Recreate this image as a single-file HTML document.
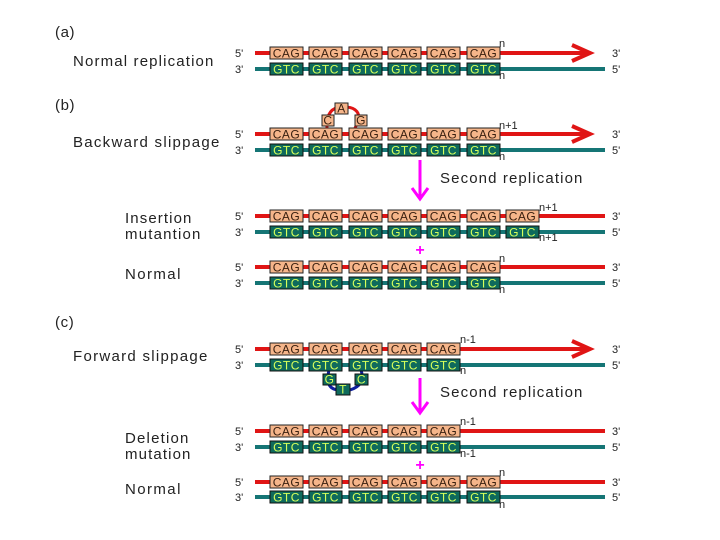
<!DOCTYPE html>
<html><head><meta charset="utf-8"><style>
html,body{margin:0;padding:0;background:#fff;}
svg{display:block;}
text{font-family:"Liberation Sans",sans-serif;}
.lab{font-size:15px;fill:#222;letter-spacing:0.6px;}
.end{font-size:11px;fill:#222;}
.n{font-size:11px;fill:#222;}
.c{fill:#f5b58a;stroke:#222;stroke-width:1;}
.g{fill:#0e6a5c;stroke:#111;stroke-width:1;}
.ct{font-size:12px;fill:#3a2010;text-anchor:middle;letter-spacing:0.5px;}
.gt{font-size:12px;fill:#d6ff5a;text-anchor:middle;letter-spacing:0.5px;}
.r{stroke:#e01515;stroke-width:4;}
.t{stroke:#157575;stroke-width:4;}
</style></head><body>
<svg width="720" height="540" viewBox="0 0 720 540" xmlns="http://www.w3.org/2000/svg">
<defs>
<g id="dummy"></g>
</defs>
<!-- left labels -->
<text class="lab" x="55" y="37">(a)</text>
<text class="lab" x="73" y="66" textLength="141">Normal replication</text>
<text class="lab" x="55" y="110">(b)</text>
<text class="lab" x="73" y="147" textLength="147">Backward slippage</text>
<text class="lab" x="125" y="223" textLength="67">Insertion</text>
<text class="lab" x="125" y="239" textLength="76">mutantion</text>
<text class="lab" x="125" y="279" textLength="56">Normal</text>
<text class="lab" x="55" y="327">(c)</text>
<text class="lab" x="73" y="361" textLength="135">Forward slippage</text>
<text class="lab" x="125" y="443" textLength="64">Deletion</text>
<text class="lab" x="125" y="459" textLength="66">mutation</text>
<text class="lab" x="125" y="494" textLength="56">Normal</text>
<text class="lab" x="440" y="183" textLength="143">Second replication</text>
<text class="lab" x="440" y="397" textLength="143">Second replication</text>

<!-- magenta arrows -->
<g stroke="#ff00ff" stroke-width="3" fill="none">
<line x1="420" y1="160" x2="420" y2="197"/><polyline points="412,188 420,199 428,188"/>
<line x1="420" y1="378" x2="420" y2="411"/><polyline points="412,402 420,413 428,402"/>
</g>
<text x="420" y="255" font-size="16" fill="#ff00ff" text-anchor="middle" font-weight="bold">+</text>
<text x="420" y="470" font-size="16" fill="#ff00ff" text-anchor="middle" font-weight="bold">+</text>

<!-- ROW A y=53 -->
<text class="end" x="235" y="57">5'</text><text class="end" x="235" y="73">3'</text>
<text class="end" x="612" y="57">3'</text><text class="end" x="612" y="73">5'</text>
<line class="r" x1="255" y1="53" x2="588" y2="53"/><polyline points="572,45 590,53 572,61" fill="none" stroke="#e01515" stroke-width="4"/>
<line class="t" x1="255" y1="69" x2="605" y2="69"/>
<g>
<rect class="c" x="270" y="47" width="33" height="12"/><text class="ct" x="286.5" y="57.5">CAG</text>
<rect class="c" x="309" y="47" width="33" height="12"/><text class="ct" x="325.5" y="57.5">CAG</text>
<rect class="c" x="349" y="47" width="33" height="12"/><text class="ct" x="365.5" y="57.5">CAG</text>
<rect class="c" x="388" y="47" width="33" height="12"/><text class="ct" x="404.5" y="57.5">CAG</text>
<rect class="c" x="427" y="47" width="33" height="12"/><text class="ct" x="443.5" y="57.5">CAG</text>
<rect class="c" x="467" y="47" width="33" height="12"/><text class="ct" x="483.5" y="57.5">CAG</text>
<rect class="g" x="270" y="63" width="33" height="12"/><text class="gt" x="286.5" y="73.5">GTC</text>
<rect class="g" x="309" y="63" width="33" height="12"/><text class="gt" x="325.5" y="73.5">GTC</text>
<rect class="g" x="349" y="63" width="33" height="12"/><text class="gt" x="365.5" y="73.5">GTC</text>
<rect class="g" x="388" y="63" width="33" height="12"/><text class="gt" x="404.5" y="73.5">GTC</text>
<rect class="g" x="427" y="63" width="33" height="12"/><text class="gt" x="443.5" y="73.5">GTC</text>
<rect class="g" x="467" y="63" width="33" height="12"/><text class="gt" x="483.5" y="73.5">GTC</text>
</g>
<text class="n" x="499" y="47">n</text><text class="n" x="499" y="79">n</text>

<!-- ROW B y=134 -->
<text class="end" x="235" y="138">5'</text><text class="end" x="235" y="154">3'</text>
<text class="end" x="612" y="138">3'</text><text class="end" x="612" y="154">5'</text>
<path d="M327,128 Q326,108 341,107 Q360,106 359,120 L355,128" fill="none" stroke="#e01515" stroke-width="3"/>
<line class="r" x1="255" y1="134" x2="588" y2="134"/><polyline points="572,126 590,134 572,142" fill="none" stroke="#e01515" stroke-width="4"/>
<line class="t" x1="255" y1="150" x2="605" y2="150"/>
<rect class="c" x="335" y="103" width="13" height="11"/><text class="ct" x="341.5" y="112.5">A</text>
<rect class="c" x="322" y="115" width="12" height="11"/><text class="ct" x="328" y="124.5">C</text>
<rect class="c" x="355" y="115" width="12" height="11"/><text class="ct" x="361" y="124.5">G</text>
<rect class="c" x="270" y="128" width="33" height="12"/><text class="ct" x="286.5" y="138.5">CAG</text>
<rect class="c" x="309" y="128" width="33" height="12"/><text class="ct" x="325.5" y="138.5">CAG</text>
<rect class="c" x="349" y="128" width="33" height="12"/><text class="ct" x="365.5" y="138.5">CAG</text>
<rect class="c" x="388" y="128" width="33" height="12"/><text class="ct" x="404.5" y="138.5">CAG</text>
<rect class="c" x="427" y="128" width="33" height="12"/><text class="ct" x="443.5" y="138.5">CAG</text>
<rect class="c" x="467" y="128" width="33" height="12"/><text class="ct" x="483.5" y="138.5">CAG</text>
<rect class="g" x="270" y="144" width="33" height="12"/><text class="gt" x="286.5" y="154.5">GTC</text>
<rect class="g" x="309" y="144" width="33" height="12"/><text class="gt" x="325.5" y="154.5">GTC</text>
<rect class="g" x="349" y="144" width="33" height="12"/><text class="gt" x="365.5" y="154.5">GTC</text>
<rect class="g" x="388" y="144" width="33" height="12"/><text class="gt" x="404.5" y="154.5">GTC</text>
<rect class="g" x="427" y="144" width="33" height="12"/><text class="gt" x="443.5" y="154.5">GTC</text>
<rect class="g" x="467" y="144" width="33" height="12"/><text class="gt" x="483.5" y="154.5">GTC</text>
<text class="n" x="499" y="129">n+1</text><text class="n" x="499" y="160">n</text>

<!-- INSERTION y=216 -->
<text class="end" x="235" y="220">5'</text><text class="end" x="235" y="236">3'</text>
<text class="end" x="612" y="220">3'</text><text class="end" x="612" y="236">5'</text>
<line class="r" x1="255" y1="216" x2="605" y2="216"/>
<line class="t" x1="255" y1="232" x2="605" y2="232"/>
<rect class="c" x="270" y="210" width="33" height="12"/><text class="ct" x="286.5" y="220.5">CAG</text>
<rect class="c" x="309" y="210" width="33" height="12"/><text class="ct" x="325.5" y="220.5">CAG</text>
<rect class="c" x="349" y="210" width="33" height="12"/><text class="ct" x="365.5" y="220.5">CAG</text>
<rect class="c" x="388" y="210" width="33" height="12"/><text class="ct" x="404.5" y="220.5">CAG</text>
<rect class="c" x="427" y="210" width="33" height="12"/><text class="ct" x="443.5" y="220.5">CAG</text>
<rect class="c" x="467" y="210" width="33" height="12"/><text class="ct" x="483.5" y="220.5">CAG</text>
<rect class="c" x="506" y="210" width="33" height="12"/><text class="ct" x="522.5" y="220.5">CAG</text>
<rect class="g" x="270" y="226" width="33" height="12"/><text class="gt" x="286.5" y="236.5">GTC</text>
<rect class="g" x="309" y="226" width="33" height="12"/><text class="gt" x="325.5" y="236.5">GTC</text>
<rect class="g" x="349" y="226" width="33" height="12"/><text class="gt" x="365.5" y="236.5">GTC</text>
<rect class="g" x="388" y="226" width="33" height="12"/><text class="gt" x="404.5" y="236.5">GTC</text>
<rect class="g" x="427" y="226" width="33" height="12"/><text class="gt" x="443.5" y="236.5">GTC</text>
<rect class="g" x="467" y="226" width="33" height="12"/><text class="gt" x="483.5" y="236.5">GTC</text>
<rect class="g" x="506" y="226" width="33" height="12"/><text class="gt" x="522.5" y="236.5">GTC</text>
<text class="n" x="539" y="211">n+1</text><text class="n" x="539" y="241">n+1</text>

<!-- NORMAL y=267 -->
<text class="end" x="235" y="271">5'</text><text class="end" x="235" y="287">3'</text>
<text class="end" x="612" y="271">3'</text><text class="end" x="612" y="287">5'</text>
<line class="r" x1="255" y1="267" x2="605" y2="267"/>
<line class="t" x1="255" y1="283" x2="605" y2="283"/>
<rect class="c" x="270" y="261" width="33" height="12"/><text class="ct" x="286.5" y="271.5">CAG</text>
<rect class="c" x="309" y="261" width="33" height="12"/><text class="ct" x="325.5" y="271.5">CAG</text>
<rect class="c" x="349" y="261" width="33" height="12"/><text class="ct" x="365.5" y="271.5">CAG</text>
<rect class="c" x="388" y="261" width="33" height="12"/><text class="ct" x="404.5" y="271.5">CAG</text>
<rect class="c" x="427" y="261" width="33" height="12"/><text class="ct" x="443.5" y="271.5">CAG</text>
<rect class="c" x="467" y="261" width="33" height="12"/><text class="ct" x="483.5" y="271.5">CAG</text>
<rect class="g" x="270" y="277" width="33" height="12"/><text class="gt" x="286.5" y="287.5">GTC</text>
<rect class="g" x="309" y="277" width="33" height="12"/><text class="gt" x="325.5" y="287.5">GTC</text>
<rect class="g" x="349" y="277" width="33" height="12"/><text class="gt" x="365.5" y="287.5">GTC</text>
<rect class="g" x="388" y="277" width="33" height="12"/><text class="gt" x="404.5" y="287.5">GTC</text>
<rect class="g" x="427" y="277" width="33" height="12"/><text class="gt" x="443.5" y="287.5">GTC</text>
<rect class="g" x="467" y="277" width="33" height="12"/><text class="gt" x="483.5" y="287.5">GTC</text>
<text class="n" x="499" y="262">n</text><text class="n" x="499" y="293">n</text>

<!-- FORWARD y=349 -->
<text class="end" x="235" y="353">5'</text><text class="end" x="235" y="369">3'</text>
<text class="end" x="612" y="353">3'</text><text class="end" x="612" y="369">5'</text>
<line class="r" x1="255" y1="349" x2="588" y2="349"/><polyline points="572,341 590,349 572,357" fill="none" stroke="#e01515" stroke-width="4"/>
<line class="t" x1="255" y1="365" x2="605" y2="365"/>
<path d="M329,370 Q324,390 340,390 M361,370 Q366,385 350,390" fill="none" stroke="#1020a0" stroke-width="3"/>
<rect class="c" x="270" y="343" width="33" height="12"/><text class="ct" x="286.5" y="353.5">CAG</text>
<rect class="c" x="309" y="343" width="33" height="12"/><text class="ct" x="325.5" y="353.5">CAG</text>
<rect class="c" x="349" y="343" width="33" height="12"/><text class="ct" x="365.5" y="353.5">CAG</text>
<rect class="c" x="388" y="343" width="33" height="12"/><text class="ct" x="404.5" y="353.5">CAG</text>
<rect class="c" x="427" y="343" width="33" height="12"/><text class="ct" x="443.5" y="353.5">CAG</text>
<rect class="g" x="270" y="359" width="33" height="12"/><text class="gt" x="286.5" y="369.5">GTC</text>
<rect class="g" x="309" y="359" width="33" height="12"/><text class="gt" x="325.5" y="369.5">GTC</text>
<rect class="g" x="349" y="359" width="33" height="12"/><text class="gt" x="365.5" y="369.5">GTC</text>
<rect class="g" x="388" y="359" width="33" height="12"/><text class="gt" x="404.5" y="369.5">GTC</text>
<rect class="g" x="427" y="359" width="33" height="12"/><text class="gt" x="443.5" y="369.5">GTC</text>
<rect class="g" x="323" y="374" width="13" height="11"/><text class="gt" x="329.5" y="383.5">G</text>
<rect class="g" x="336" y="384" width="14" height="11"/><text class="gt" x="343" y="393.5">T</text>
<rect class="g" x="355" y="374" width="13" height="11"/><text class="gt" x="361.5" y="383.5">C</text>
<text class="n" x="460" y="343">n-1</text><text class="n" x="460" y="374">n</text>

<!-- DELETION y=431 -->
<text class="end" x="235" y="435">5'</text><text class="end" x="235" y="451">3'</text>
<text class="end" x="612" y="435">3'</text><text class="end" x="612" y="451">5'</text>
<line class="r" x1="255" y1="431" x2="605" y2="431"/>
<line class="t" x1="255" y1="447" x2="605" y2="447"/>
<rect class="c" x="270" y="425" width="33" height="12"/><text class="ct" x="286.5" y="435.5">CAG</text>
<rect class="c" x="309" y="425" width="33" height="12"/><text class="ct" x="325.5" y="435.5">CAG</text>
<rect class="c" x="349" y="425" width="33" height="12"/><text class="ct" x="365.5" y="435.5">CAG</text>
<rect class="c" x="388" y="425" width="33" height="12"/><text class="ct" x="404.5" y="435.5">CAG</text>
<rect class="c" x="427" y="425" width="33" height="12"/><text class="ct" x="443.5" y="435.5">CAG</text>
<rect class="g" x="270" y="441" width="33" height="12"/><text class="gt" x="286.5" y="451.5">GTC</text>
<rect class="g" x="309" y="441" width="33" height="12"/><text class="gt" x="325.5" y="451.5">GTC</text>
<rect class="g" x="349" y="441" width="33" height="12"/><text class="gt" x="365.5" y="451.5">GTC</text>
<rect class="g" x="388" y="441" width="33" height="12"/><text class="gt" x="404.5" y="451.5">GTC</text>
<rect class="g" x="427" y="441" width="33" height="12"/><text class="gt" x="443.5" y="451.5">GTC</text>
<text class="n" x="460" y="425">n-1</text><text class="n" x="460" y="457">n-1</text>

<!-- NORMAL y=482 -->
<text class="end" x="235" y="486">5'</text><text class="end" x="235" y="501">3'</text>
<text class="end" x="612" y="486">3'</text><text class="end" x="612" y="501">5'</text>
<line class="r" x1="255" y1="482" x2="605" y2="482"/>
<line class="t" x1="255" y1="497" x2="605" y2="497"/>
<rect class="c" x="270" y="476" width="33" height="12"/><text class="ct" x="286.5" y="486.5">CAG</text>
<rect class="c" x="309" y="476" width="33" height="12"/><text class="ct" x="325.5" y="486.5">CAG</text>
<rect class="c" x="349" y="476" width="33" height="12"/><text class="ct" x="365.5" y="486.5">CAG</text>
<rect class="c" x="388" y="476" width="33" height="12"/><text class="ct" x="404.5" y="486.5">CAG</text>
<rect class="c" x="427" y="476" width="33" height="12"/><text class="ct" x="443.5" y="486.5">CAG</text>
<rect class="c" x="467" y="476" width="33" height="12"/><text class="ct" x="483.5" y="486.5">CAG</text>
<rect class="g" x="270" y="491" width="33" height="12"/><text class="gt" x="286.5" y="501.5">GTC</text>
<rect class="g" x="309" y="491" width="33" height="12"/><text class="gt" x="325.5" y="501.5">GTC</text>
<rect class="g" x="349" y="491" width="33" height="12"/><text class="gt" x="365.5" y="501.5">GTC</text>
<rect class="g" x="388" y="491" width="33" height="12"/><text class="gt" x="404.5" y="501.5">GTC</text>
<rect class="g" x="427" y="491" width="33" height="12"/><text class="gt" x="443.5" y="501.5">GTC</text>
<rect class="g" x="467" y="491" width="33" height="12"/><text class="gt" x="483.5" y="501.5">GTC</text>
<text class="n" x="499" y="476">n</text><text class="n" x="499" y="508">n</text>
</svg>
</body></html>
